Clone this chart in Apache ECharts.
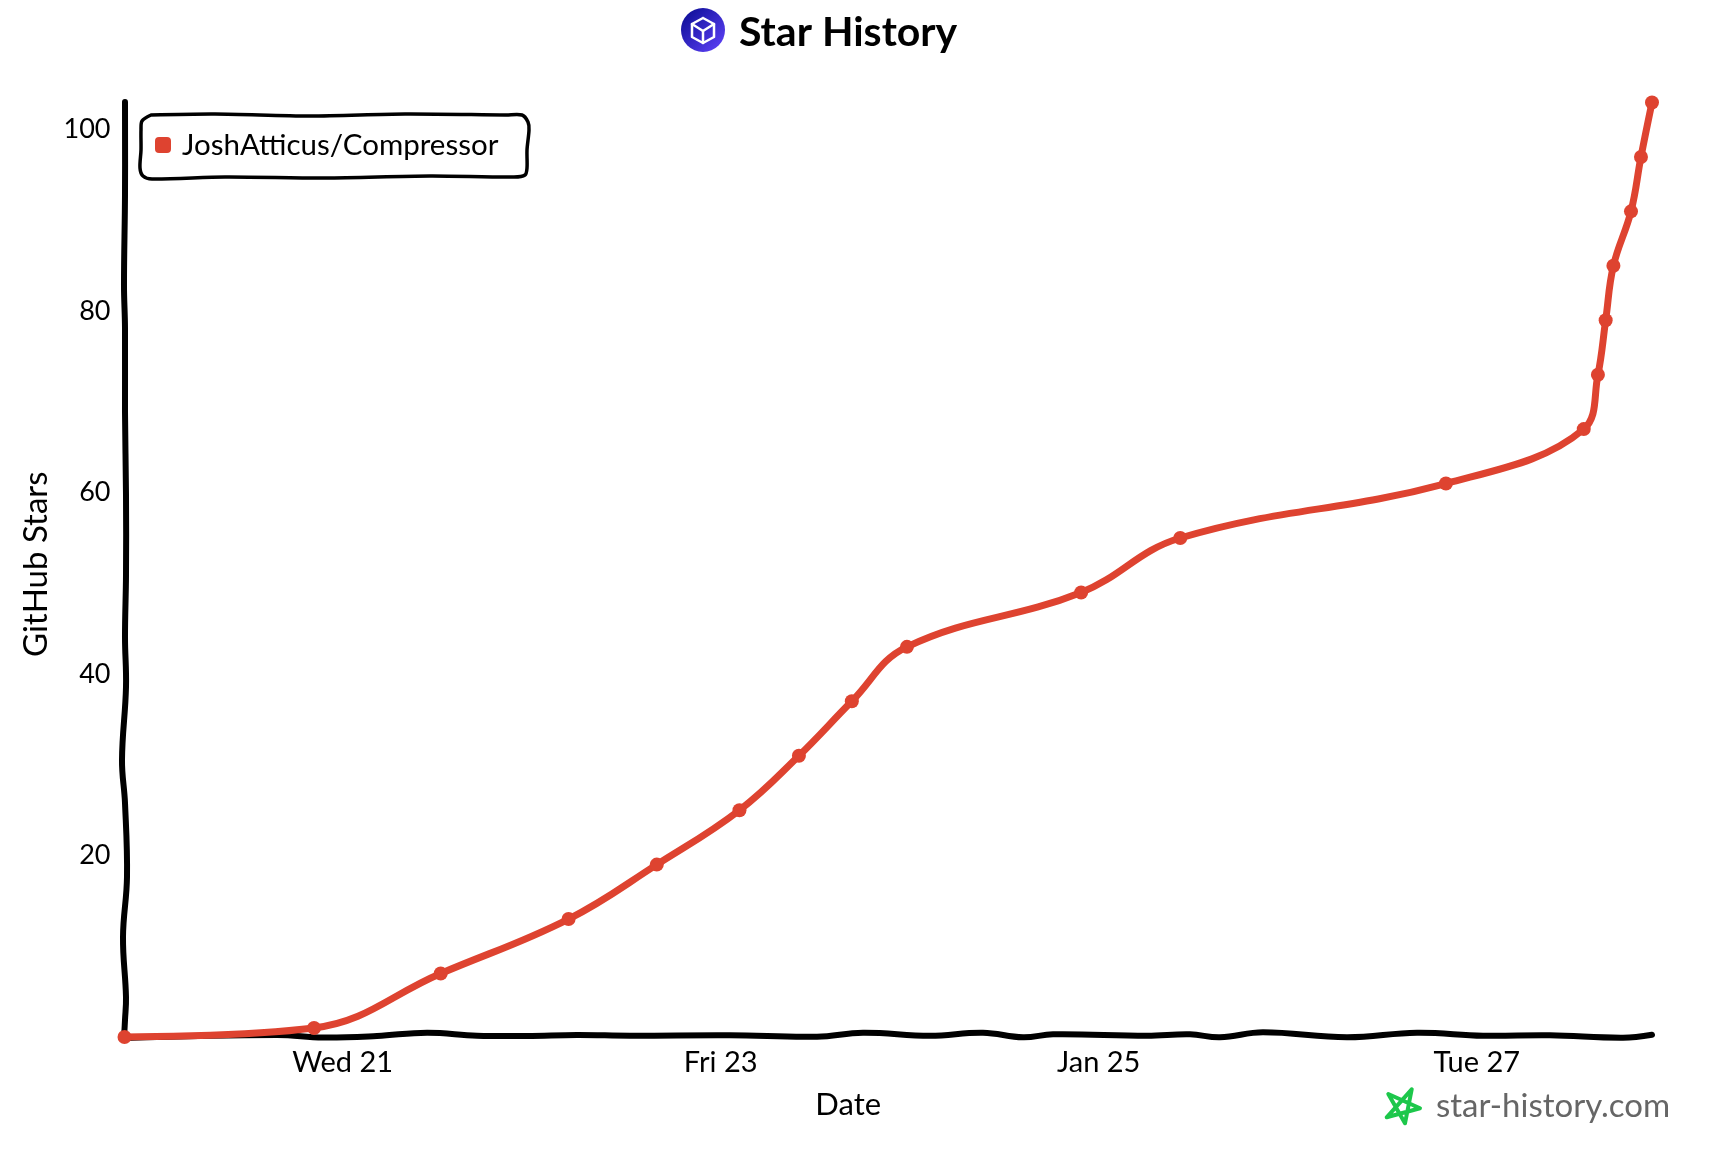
<!DOCTYPE html>
<html>
<head>
<meta charset="utf-8">
<title>Star History</title>
<style>
  html, body { margin: 0; padding: 0; background: #fff; }
  #chart { width: 1728px; height: 1150px; }
</style>
<script src="https://cdn.jsdelivr.net/npm/echarts@6/dist/echarts.min.js"></script>
</head>
<body>
<div id="chart"></div>
<script>
// Star counts for the repository, one sample per six stars gained.
const repoName = 'JoshAtticus/Compressor';
const sampleTimes = [
  '2026-01-19T20:18:00Z', '2026-01-20T20:22:00Z', '2026-01-21T12:27:00Z', '2026-01-22T04:41:00Z',
  '2026-01-22T15:53:00Z', '2026-01-23T02:23:00Z', '2026-01-23T09:56:00Z', '2026-01-23T16:39:00Z',
  '2026-01-23T23:39:00Z', '2026-01-24T21:46:00Z', '2026-01-25T10:21:00Z', '2026-01-26T20:05:00Z',
  '2026-01-27T13:35:00Z', '2026-01-27T15:23:00Z', '2026-01-27T16:22:00Z', '2026-01-27T17:21:00Z',
  '2026-01-27T19:35:00Z', '2026-01-27T20:51:00Z', '2026-01-27T22:15:00Z'
];
const starCounts = [0, 1, 7, 13, 19, 25, 31, 37, 43, 49, 55, 61, 67, 73, 79, 85, 91, 97, 103];

// Date axis labels and the instants they sit on.
const dateTickTimes = ['2026-01-21T00:00:00Z', '2026-01-23T00:00:00Z', '2026-01-25T00:00:00Z', '2026-01-27T00:00:00Z'];
const dateTickLabels = ['Wed 21', 'Fri 23', 'Jan 25', 'Tue 27'];
const starTicks = [20, 40, 60, 80, 100];

const FONT = 'Lato, "Open Sans", sans-serif';
const INK = '#000';
const RED = '#de4330';

const sampleMillis = sampleTimes.map(t => Date.parse(t));
const tickMillis = dateTickTimes.map(t => Date.parse(t));

// Hand-inked strokes for the two axes and the legend frame.
const leftAxisInk = [[125,102],[125,195],[124,285],[125,328],[125,412],[126,495],[126,575],[125,637],[126,687],[122,760],[125,803],[127,877],[123,937],[126,997],[125,1020],[124,1038]];
const bottomAxisInk = [[124,1038],[277,1035],[323,1037.5],[377,1036],[427,1032.7],[477,1035.7],[527,1036],[577,1035],[630,1035.7],[730,1035.3],[817,1036.7],[863,1032.7],[930,1035.7],[983,1032.7],[1023,1037.3],[1053,1034.3],[1147,1035.7],[1190,1034.3],[1220,1037.3],[1263,1032.3],[1347,1037.3],[1417,1032.7],[1483,1035.7],[1550,1035.3],[1623,1037.7],[1652,1034.7]];
const legendFrameInk = [[151,115],[215,114],[310,116],[405,114],[506,115],[522,115],[528,122],[529,130],[527,150],[527,168],[525,175],[514,177],[430,176],[325,178],[225,177],[152,179],[143,176],[140,168],[141,150],[141,130],[142,121],[151,115]];
const starInk = [[1411.7,1089.3],[1405,1123.3],[1388.3,1094],[1420,1108.3],[1386.7,1117.3],[1411.7,1089.3]];

function ink(points, width, color, smooth) {
  return {
    type: 'polyline', silent: true, z: 0,
    shape: { points, smooth },
    style: { stroke: color, lineWidth: width, fill: null, lineCap: 'round', lineJoin: 'round' }
  };
}

const chart = echarts.init(document.getElementById('chart'), null, { renderer: 'canvas' });
chart.setOption({
  animation: false,
  backgroundColor: '#fff',
  title: {
    text: 'Star History',
    left: 734, top: 7,
    textStyle: { fontFamily: FONT, fontSize: 41, fontWeight: 'bold', color: INK }
  },
  legend: {
    show: true,
    left: 150, top: 125,
    icon: 'roundRect', itemWidth: 16, itemHeight: 16,
    selectedMode: false,
    textStyle: { fontFamily: FONT, fontSize: 29.5, color: INK, padding: [0, 0, 0, 6] }
  },
  grid: { left: 124.5, right: 76, top: 102.5, bottom: 113, containLabel: false },
  xAxis: {
    type: 'value',
    min: sampleMillis[0],
    max: sampleMillis[sampleMillis.length - 1],
    name: 'Date',
    nameLocation: 'middle',
    nameGap: 52,
    nameTextStyle: { fontFamily: FONT, fontSize: 31, color: INK, padding: [0, 80, 0, 0] },
    axisLine: { show: false },
    axisTick: { show: false },
    splitLine: { show: false },
    axisLabel: {
      customValues: tickMillis,
      formatter: v => dateTickLabels[tickMillis.indexOf(+v)] || '',
      margin: 11,
      fontFamily: FONT, fontSize: 29, color: INK
    }
  },
  yAxis: {
    type: 'value',
    min: 0, max: 103,
    name: 'GitHub Stars',
    nameLocation: 'middle',
    nameGap: 69,
    nameTextStyle: { fontFamily: FONT, fontSize: 33, color: INK, padding: [0, 0, 0, 11] },
    axisLine: { show: false },
    axisTick: { show: false },
    splitLine: { show: false },
    axisLabel: {
      customValues: starTicks,
      margin: 14,
      fontFamily: FONT, fontSize: 27, color: INK
    }
  },
  series: [{
    name: repoName,
    type: 'line',
    data: sampleMillis.map((t, i) => [t, starCounts[i]]),
    smooth: 0.4,
    clip: false,
    showSymbol: true,
    showAllSymbol: true,
    symbol: 'circle',
    symbolSize: 14,
    color: RED,
    lineStyle: { color: RED, width: 7 },
    itemStyle: { color: RED },
    z: 3
  }],
  graphic: { elements: [
    ink(leftAxisInk, 6, INK, 0.4),
    ink(bottomAxisInk, 6, INK, 0.4),
    ink(legendFrameInk, 3.5, INK, 0.3),
    // Badge next to the title
    { type: 'circle', silent: true, shape: { cx: 703, cy: 30, r: 22 },
      style: { fill: new echarts.graphic.LinearGradient(0.1, 0.1, 0.9, 0.9, [
        { offset: 0, color: '#10109a' }, { offset: 1, color: '#5a3ff2' }]) } },
    ink([[703,18],[714,24],[714,37],[703,43],[692,37],[692,24],[703,18]], 2.5, '#fff', 0),
    ink([[692,24],[703,31],[714,24]], 2.5, '#fff', 0),
    ink([[703,31],[703,43]], 2.5, '#fff', 0),
    // Footer mark and address
    ink(starInk, 4, '#1dc74b', 0),
    { type: 'text', silent: true, x: 1436, y: 1106,
      style: { text: 'star-history.com', fontFamily: FONT, fontSize: 33, fill: '#666', verticalAlign: 'middle' } }
  ] }
});
</script>
</body>
</html>
